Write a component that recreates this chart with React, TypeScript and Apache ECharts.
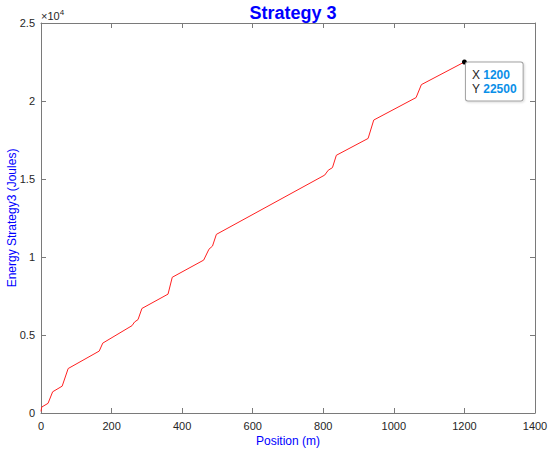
import React, { useEffect, useRef } from 'react';
import * as echarts from 'echarts';

const positions = [0, 2, 20, 33, 60, 77, 165, 175, 258, 265, 275, 286, 360, 372, 461, 476, 486, 497, 804, 814, 826, 837, 927, 943, 1063, 1078, 1200];
const energy = [100, 380, 620, 1360, 1720, 2850, 3970, 4480, 5600, 5830, 5990, 6700, 7620, 8700, 9800, 10500, 10700, 11450, 15250, 15560, 15730, 16520, 17600, 18780, 20220, 21050, 22500];
const tipX = 1200;
const tipY = 22500;

const FONT = '"Liberation Sans", Arial, Helvetica, sans-serif';
const BLUE = '#0000ff';
const AXIS = '#7a7a7a';
const TICKTXT = '#262626';

export default function App() {
  const ref = useRef<HTMLDivElement>(null);
  useEffect(() => {
    document.body.style.margin = '0';
    const chart = echarts.init(ref.current!, null, { renderer: 'svg' });
    const axisCommon = {
      type: 'value' as const,
      axisLine: { show: true, onZero: false, lineStyle: { color: AXIS, width: 1 } },
      axisTick: { show: true, inside: true, length: 5, lineStyle: { color: AXIS } },
      splitLine: { show: false },
    };
    chart.setOption({
      animation: false,
      backgroundColor: '#ffffff',
      textStyle: { fontFamily: FONT },
      title: {
        text: 'Strategy 3',
        left: 288,
        textAlign: 'center',
        top: -1,
        textStyle: { color: BLUE, fontSize: 18, fontWeight: 'bold', fontFamily: FONT },
      },
      graphic: [
        {
          type: 'text',
          left: 41,
          top: 8,
          style: {
            text: '×10{s|4}',
            fill: TICKTXT,
            fontSize: 11,
            fontFamily: FONT,
            rich: { s: { fontSize: 8, fill: TICKTXT, padding: [0, 0, 7, 0] } },
          } as any,
        },
      ],
      grid: { left: 41, right: 15, top: 23, bottom: 38, outerBoundsMode: 'none', containLabel: false } as any,
      xAxis: [
        {
          ...axisCommon,
          position: 'bottom',
          min: 0,
          max: 1400,
          interval: 200,
          axisLabel: { color: TICKTXT, fontSize: 11, margin: 7, fontFamily: FONT, formatter: (v: number) => String(v) },
          name: 'Position (m)',
          nameLocation: 'middle',
          nameGap: 22,
          nameMoveOverlap: false,
          nameTextStyle: { color: BLUE, fontSize: 12, fontFamily: FONT },
        },
        {
          ...axisCommon,
          position: 'top',
          min: 0,
          max: 1400,
          interval: 200,
          axisLabel: { show: false },
        },
      ],
      yAxis: [
        {
          ...axisCommon,
          position: 'left',
          min: 0,
          max: 25000,
          interval: 5000,
          axisLabel: {
            color: TICKTXT,
            fontSize: 11,
            margin: 6,
            fontFamily: FONT,
            formatter: (v: number) => String(v / 10000),
          },
          name: 'Energy Strategy3 (Joules)',
          nameLocation: 'middle',
          nameGap: 23,
          nameMoveOverlap: false,
          nameTextStyle: { color: BLUE, fontSize: 12, fontFamily: FONT },
        },
        {
          ...axisCommon,
          position: 'right',
          min: 0,
          max: 25000,
          interval: 5000,
          axisLabel: { show: false },
        },
      ],
      series: [
        {
          type: 'line',
          xAxisIndex: 0,
          yAxisIndex: 0,
          data: positions.map((p, i) => [p, energy[i]]),
          showSymbol: false,
          lineStyle: { color: '#ff2020', width: 1 },
          markPoint: {
            symbol: 'circle',
            symbolSize: 5,
            itemStyle: { color: '#000000' },
            data: [{ coord: [tipX, tipY] }],
            label: {
              show: true,
              position: [4, 3],
              formatter: () => `X {v|${tipX}}\nY {v|${tipY}}`,
              color: '#262626',
              fontSize: 12,
              fontFamily: FONT,
              lineHeight: 14,
              backgroundColor: '#ffffff',
              borderColor: '#a0a0a0',
              borderWidth: 1,
              borderRadius: 2,
              padding: [5, 6, 5, 6],
              shadowColor: 'rgba(0,0,0,0.15)',
              shadowBlur: 2,
              shadowOffsetX: 1,
              shadowOffsetY: 1,
              rich: {
                v: { color: '#0a8fe8', fontWeight: 'bold', fontSize: 12, fontFamily: FONT, lineHeight: 14 },
              },
            },
          },
        },
      ],
    });
    return () => chart.dispose();
  }, []);
  return (
    <div
      ref={ref}
      style={{ width: 550, height: 451, position: 'fixed', left: 0, top: 0 }}
    />
  );
}
